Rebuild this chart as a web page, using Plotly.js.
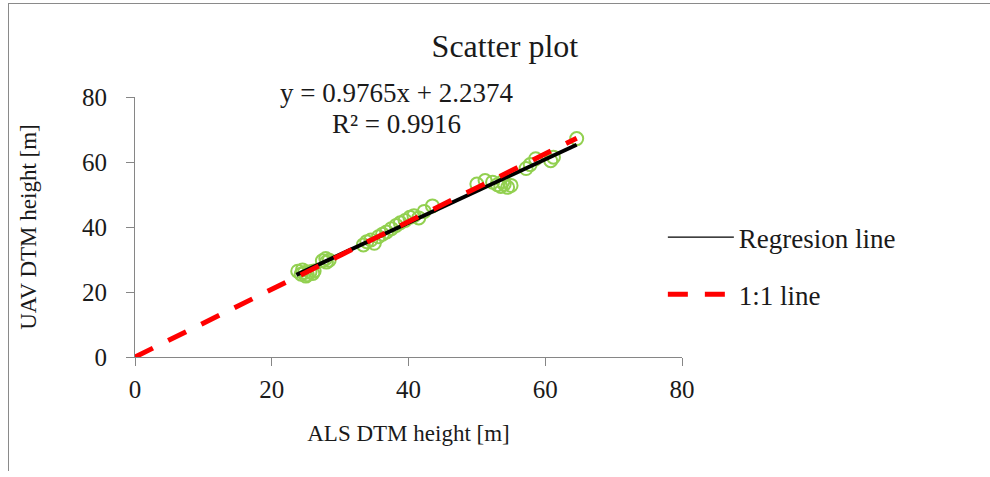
<!DOCTYPE html>
<html>
<head>
<meta charset="utf-8">
<script src="https://cdn.plot.ly/plotly-3.0.1.min.js"></script>
<style>
html,body{margin:0;padding:0;background:#fff;}
#frame{position:absolute;left:8px;top:3px;width:990px;height:467px;border-left:1px solid #8a8a8a;border-top:1px solid #8a8a8a;}
#chart{position:absolute;left:0;top:0;width:990px;height:477px;}
</style>
</head>
<body>
<div id="frame"></div>
<div id="chart"></div>
<script>
// Measured points: ALS DTM height (x) vs UAV DTM height (y)
const alsHeight = [23.8,24.3,24.8,25.2,25.6,26.0,24.5,25.0,26.2,
  27.4,27.9,28.4,28.0,
  33.4,33.9,34.5,35.0,35.6,36.2,36.8,37.5,38.2,38.8,39.5,40.2,40.8,41.5,42.3,43.5,
  50.0,51.2,52.3,53.0,53.5,54.0,54.5,55.0,53.8,
  57.2,57.8,58.6,60.8,61.2,64.6];
const uavHeight = [26.4,25.5,26.0,25.3,26.2,25.7,26.8,24.9,26.5,
  29.6,30.3,29.8,29.2,
  34.5,35.5,36.0,35.0,37.0,37.8,38.5,39.5,40.5,41.3,42.0,43.0,43.5,42.8,44.8,46.5,
  53.2,54.3,53.8,53.0,52.5,53.2,52.2,52.8,54.0,
  58.0,59.2,61.0,60.4,61.5,67.2];
const slope = 0.9765, intercept = 2.2374, r2 = 0.9916;
const regX = [23.6, 64.6];
// "1:1 line" as drawn in the picture
const oneX = [0, 64.6];
const oneY = [0, 67.3];
const xTicks = [0,20,40,60,80];
const yTicks = [0,20,40,60,80];

const font = "'Liberation Serif', 'DejaVu Serif', serif";
const ink = '#1a1a1a';
const dash = '20px,17px';
const traces = [
  {x: alsHeight, y: uavHeight, mode:'markers', type:'scatter', showlegend:false,
   marker:{symbol:'circle-open', size:13, color:'#92D050', line:{width:2, color:'#92D050'}}},
  {x: regX, y: regX.map(v => slope*v + intercept), mode:'lines', type:'scatter', showlegend:false,
   line:{color:'#000', width:4}},
  {x: oneX, y: oneY, mode:'lines', type:'scatter', showlegend:false,
   line:{color:'#FF0000', width:5, dash:dash}},
  {x:[null], y:[null], mode:'lines', type:'scatter', name:'Regresion line', legendgroup:'a',
   line:{color:'#000', width:1.3}},
  {x:[null], y:[null], mode:'lines', type:'scatter', name:'1:1 line', legendgroup:'b',
   line:{color:'#FF0000', width:5, dash:dash}}
];
const axisCommon = {
  showgrid:false, zeroline:false, showline:true, linecolor:'#868686', linewidth:1,
  ticks:'outside', ticklen:8, tickcolor:'#868686', tickwidth:1,
  tickfont:{family:font, size:25, color:ink}
};
const layout = {
  width:990, height:477,
  margin:{l:135, r:308, t:97, b:120},
  paper_bgcolor:'rgba(0,0,0,0)', plot_bgcolor:'rgba(0,0,0,0)',
  title:{text:'Scatter plot', font:{family:font, size:32, color:ink}, x:0.51, xref:'container', y:0.905, yref:'container', yanchor:'middle'},
  xaxis:Object.assign({}, axisCommon, {range:[0,80], tickvals:xTicks, ticklabelstandoff:2,
    title:{text:'ALS DTM height [m]', font:{family:font, size:23, color:ink}, standoff:22}}),
  yaxis:Object.assign({}, axisCommon, {range:[0,80], tickvals:yTicks, ticklabelstandoff:14,
    title:{text:'UAV DTM height [m]', font:{family:font, size:23, color:ink}, standoff:38}}),
  legend:{x:0.965, y:0.35, xanchor:'left', yanchor:'middle', tracegroupgap:19,
    font:{family:font, size:27, color:ink}, bgcolor:'rgba(0,0,0,0)', itemwidth:66},
  annotations:[
    {text:'y = ' + slope + 'x + ' + intercept, xref:'paper', yref:'paper', x:(396-135)/547, y:(357-93)/260,
     showarrow:false, font:{family:font, size:27, color:ink}, xanchor:'center', yanchor:'middle'},
    {text:'R² = ' + r2, xref:'paper', yref:'paper', x:(396-135)/547, y:(357-124)/260,
     showarrow:false, font:{family:font, size:27, color:ink}, xanchor:'center', yanchor:'middle'}
  ]
};
Plotly.newPlot('chart', traces, layout, {displayModeBar:false, staticPlot:true});
</script>
</body>
</html>
